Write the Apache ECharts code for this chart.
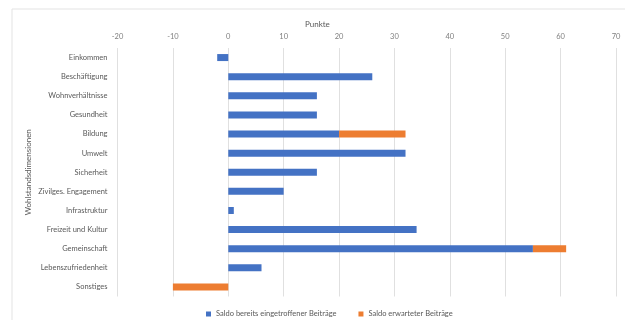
<!DOCTYPE html>
<html><head><meta charset="utf-8">
<script src="https://cdn.jsdelivr.net/npm/echarts@6/dist/echarts.min.js"></script>
<style>html,body{margin:0;padding:0;background:#fff}#c{width:625px;height:320px}</style>
</head><body><div id="c"></div>
<script>
const categories = ['Einkommen','Beschäftigung','Wohnverhältnisse','Gesundheit','Bildung','Umwelt','Sicherheit','Zivilges. Engagement','Infrastruktur','Freizeit und Kultur','Gemeinschaft','Lebenszufriedenheit','Sonstiges'];
const saldoEingetroffen = [-2, 26, 16, 16, 20, 32, 16, 10, 1, 34, 55, 6, 0];
const saldoErwartet = [0, 0, 0, 0, 12, 0, 0, 0, 0, 0, 6, 0, -10];
const seriesNames = ['Saldo bereits eingetroffener Beiträge','Saldo erwarteter Beiträge'];
const axisTitleX = 'Punkte';
const axisTitleY = 'Wohlstandsdimensionen';

const chart = echarts.init(document.getElementById('c'), null, {renderer:'canvas'});
const font = 'Lato, "Open Sans", sans-serif';
chart.setOption({
  animation:false,
  textStyle:{fontFamily:font},
  title:{text:axisTitleX,left:305,top:20,padding:0,
    textStyle:{fontSize:8,fontWeight:'normal',color:'#595959',fontFamily:font}},
  graphic:[{type:'rect',shape:{x:12,y:9,width:640,height:340},style:{fill:'none',stroke:'#e3e3e3',lineWidth:1},silent:true}],
  grid:{left:117.5,right:9,top:48,bottom:23.5,containLabel:false},
  legend:{bottom:2,left:206,padding:0,itemWidth:5,itemHeight:5,itemGap:22,icon:'rect',
    textStyle:{fontSize:7.5,color:'#595959',fontFamily:font},data:seriesNames},
  xAxis:{type:'value',position:'top',min:-20,max:70,interval:10,
    axisLabel:{fontSize:7.5,color:'#7f7f7f',margin:7},
    axisLine:{show:false},axisTick:{show:false},
    splitLine:{lineStyle:{color:'#e0e0e0',width:1}}},
  yAxis:{type:'category',inverse:true,data:categories,
    name:axisTitleY,nameLocation:'middle',nameGap:85,nameRotate:90,nameMoveOverlap:false,
    nameTextStyle:{fontSize:8,color:'#595959'},
    axisLabel:{fontSize:7.5,color:'#595959',margin:10,interval:0},
    axisLine:{show:false},axisTick:{show:false},splitLine:{show:false}},
  series:[
    {name:seriesNames[0],type:'bar',stack:'s',data:saldoEingetroffen,barWidth:7,
     itemStyle:{color:'#4472C4'}},
    {name:seriesNames[1],type:'bar',stack:'s',data:saldoErwartet,barWidth:7,
     itemStyle:{color:'#ED7D31'}}
  ]
});
</script></body></html>
